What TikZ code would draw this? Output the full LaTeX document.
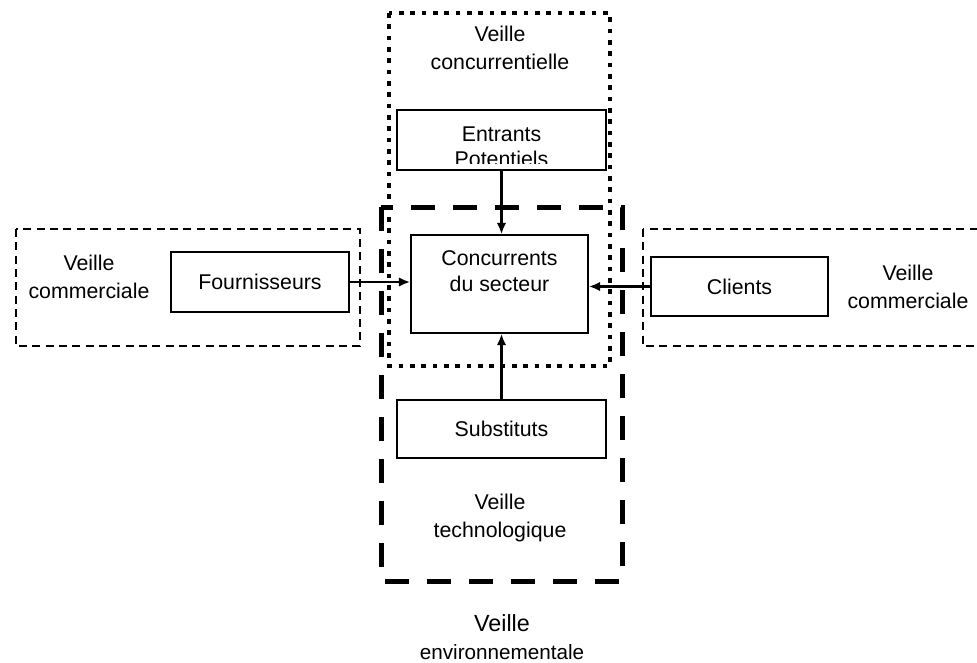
\documentclass[tikz,border=0pt]{standalone}
\usepackage{fontspec}
\setmainfont{Liberation Sans}
\usetikzlibrary{arrows.meta}
\begin{document}
\begin{tikzpicture}[x=0.75pt,y=-0.75pt,
  box/.style={draw=black, line width=1.1pt, rectangle, inner sep=0pt, font=\fontsize{16}{19}\selectfont, align=center},
  lbl/.style={inner sep=0pt, font=\fontsize{16}{19}\selectfont, align=center},
  vlbl/.style={inner sep=0pt, font=\fontsize{16}{21}\selectfont, align=center},
  dotzone/.style={draw=black, line width=3.5pt, dash pattern=on 3.5pt off 5pt},
  bigdash/.style={draw=black, line width=3.75pt, dash pattern=on 18pt off 13.5pt},
  smalldash/.style={draw=black, line width=1.5pt, dash pattern=on 6pt off 4pt},
  flow/.style={line width=1.7pt, -{Latex[length=8.5pt,width=7pt]}}]
\useasboundingbox (0,0) rectangle (977,663);
\clip (0,0) rectangle (977,663);
\draw [dotzone] (389,13) rectangle (610,366);
\draw [bigdash] (381,207) rectangle (622,581);
\draw [smalldash] (16,229) rectangle (360,346);
\draw [smalldash] (643,229) rectangle (1000,346);
\node [vlbl] (vconc) at (500,48) {Veille\\concurrentielle};
\node [vlbl] (vcomg) at (89,277) {Veille\\commerciale};
\node [vlbl] (vcomd) at (908,287) {Veille\\commerciale};
\node [vlbl] (vtech) at (500,518) {Veille\\technologique};
\node [vlbl] (venv) at (502,637) {{\fontsize{17.5}{21}\selectfont Veille}\\{\fontsize{15.5}{20}\selectfont environnementale}};
\node [box, minimum width=156.75pt, minimum height=45pt] (ent) at (501.5,140) {};
\begin{scope}
\clip (400,113) rectangle (603,164);
\node [lbl] (enttxt) at (501.5,147) {Entrants\\Potentiels};
\end{scope}
\node [box, minimum width=132.75pt, minimum height=73.5pt] (conc) at (499.5,284) {};
\node [lbl] (conctxt) at (499.5,271) {Concurrents\\du secteur};
\node [box, minimum width=133.5pt, minimum height=45pt] (four) at (260,282) {Fournisseurs};
\node [box, minimum width=132.75pt, minimum height=44.25pt] (cli) at (739.5,286.5) {Clients};
\node [box, minimum width=156.75pt, minimum height=43.5pt] (sub) at (501.5,429) {Substituts};
\draw [flow] (ent.south) -- (ent.south |- conc.north);
\draw [flow] (sub.north) -- (sub.north |- conc.south);
\draw [flow] (four.east) -- (four.east -| conc.west);
\draw [flow] (cli.west) -- (cli.west -| conc.east);
\end{tikzpicture}
\end{document}
